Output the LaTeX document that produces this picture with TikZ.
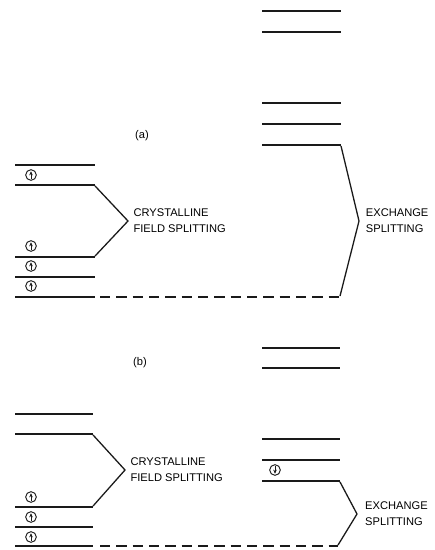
\documentclass[tikz,border=0pt]{standalone}
\usepackage{fontspec}
\setmainfont{Liberation Sans}
\usetikzlibrary{arrows.meta}
\definecolor{tintaN}{HTML}{1A1A1A}
\tikzset{
  nivel/.style={tintaN,line width=1.9pt},
  nivelVacio/.style={tintaN,line width=1.6pt,dash pattern=on 3.1mm off 1.8mm},
  llave/.style={tintaN,line width=1.1pt},
  rotulo/.style={font=\fontsize{9.5}{13.6}\selectfont,align=left,anchor=west,inner sep=0pt},
  espin/.style={circle,draw=tintaN,line width=0.8pt,minimum size=3.2mm,inner sep=0pt},
  flechaEspin/.style={tintaN,line width=0.8pt,-{Stealth[length=1.2mm,width=1.1mm]}}
}
\newcommand{\nivel}[4]{% x1, x2, y, nombre
  \coordinate (#4i) at (#1,#3);
  \coordinate (#4d) at (#2,#3);
  \draw[nivel] (#4i) -- (#4d);
}
\newcommand{\espinArriba}[3]{% x, y, nombre
  \node[espin] (#3) at (#1,#2) {};
  \draw[flechaEspin] ([yshift=-1.1mm]#3.center) -- ([yshift=1.1mm]#3.center);
}
\newcommand{\espinAbajo}[3]{% x, y, nombre
  \node[espin] (#3) at (#1,#2) {};
  \draw[flechaEspin] ([yshift=1.1mm]#3.center) -- ([yshift=-1.1mm]#3.center);
}

\begin{document}
\begin{tikzpicture}[x=0.3mm,y=-0.3mm]
  \useasboundingbox (0,0) rectangle (434,550);

  % ---- (a) ----
  \node[font=\fontsize{9.5}{10}\selectfont] (etiqA) at (142,136) {(a)};
  \nivel{262}{341}{11}{aD1}
  \nivel{262}{341}{32}{aD2}
  \nivel{262}{341}{103}{aD3}
  \nivel{262}{341}{124}{aD4}
  \nivel{262}{341}{145}{aD5}
  \nivel{15}{95}{165}{aI1}
  \nivel{15}{95}{185}{aI2}
  \nivel{15}{95}{257}{aI3}
  \nivel{15}{95}{277}{aI4}
  \nivel{15}{95}{297}{aI5}
  \espinArriba{31}{175}{aE1}
  \espinArriba{31}{246}{aE2}
  \espinArriba{31}{266}{aE3}
  \espinArriba{31}{286}{aE4}
  \coordinate (aVi) at (100,297);
  \coordinate (aVd) at (340,297);
  \draw[nivelVacio] (aVi) -- (aVd);
  \coordinate (picoCA) at (128,221);
  \coordinate (picoXA) at (359,221);
  \draw[llave] ([yshift=-0.8pt]aI2d) -- (picoCA) -- ([yshift=0.8pt]aI3d);
  \draw[llave] ([yshift=-0.8pt]aD5d) -- (picoXA) -- ([yshift=0.8pt]aVd);
  \node[rotulo] (cristA) at ([xshift=1.6mm]picoCA) {CRYSTALLINE\\FIELD SPLITTING};
  \node[rotulo] (intercA) at ([xshift=2mm]picoXA) {EXCHANGE\\SPLITTING};

  % ---- (b) ----
  \node[font=\fontsize{9.5}{10}\selectfont] (etiqB) at (140,363) {(b)};
  \nivel{262}{340}{348}{bD1}
  \nivel{262}{340}{368}{bD2}
  \nivel{262}{340}{439}{bD3}
  \nivel{262}{340}{460}{bD4}
  \nivel{262}{340}{481}{bD5}
  \nivel{15}{93}{414}{bI1}
  \nivel{15}{93}{434}{bI2}
  \nivel{15}{93}{507}{bI3}
  \nivel{15}{93}{527}{bI4}
  \nivel{15}{93}{546}{bI5}
  \espinArriba{31}{497}{bE1}
  \espinArriba{31}{517}{bE2}
  \espinArriba{31}{537}{bE3}
  \espinAbajo{275}{470}{bE4}
  \coordinate (bVi) at (100,546);
  \coordinate (bVd) at (338,546);
  \draw[nivelVacio] (bVi) -- (bVd);
  \coordinate (picoCB) at (125,470);
  \coordinate (picoXB) at (357,514);
  \draw[llave] ([yshift=-0.8pt]bI2d) -- (picoCB) -- ([yshift=0.8pt]bI3d);
  \draw[llave] ([yshift=-0.8pt]bD5d) -- (picoXB) -- ([yshift=0.8pt]bVd);
  \node[rotulo] (cristB) at ([xshift=1.6mm]picoCB) {CRYSTALLINE\\FIELD SPLITTING};
  \node[rotulo] (intercB) at ([xshift=2.4mm]picoXB) {EXCHANGE\\SPLITTING};
\end{tikzpicture}
\end{document}
